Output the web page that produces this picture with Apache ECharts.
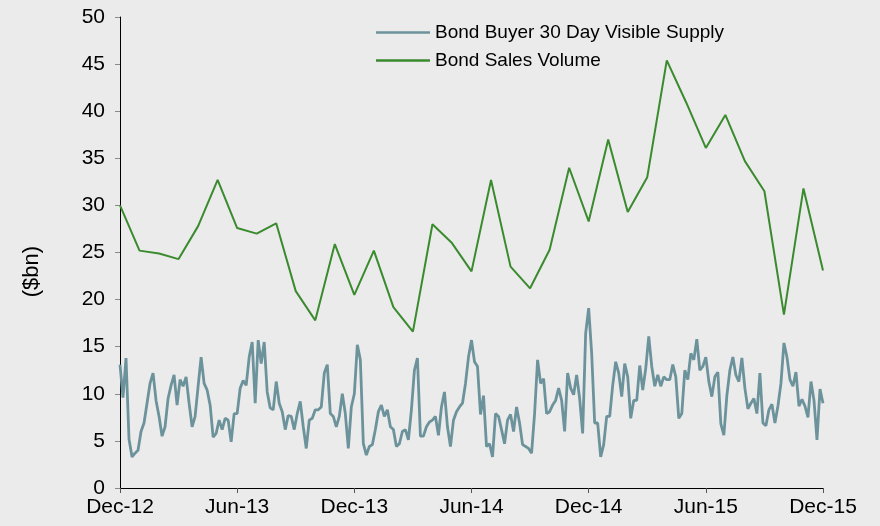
<!DOCTYPE html>
<html>
<head>
<meta charset="utf-8">
<script src="https://cdn.jsdelivr.net/npm/echarts@6/dist/echarts.min.js"></script>
<style>
html,body{margin:0;padding:0;background:#ebebeb;}
#c{width:880px;height:526px;}
</style>
</head>
<body>
<div id="c"></div>
<script>
var tickLabels = ['Dec-12','Jun-13','Dec-13','Jun-14','Dec-14','Jun-15','Dec-15'];
var salesMonths = 37;
var salesVolume = [30.0,25.2,24.9,24.3,27.8,32.7,27.6,27.0,28.1,20.9,17.8,25.9,
  20.5,25.2,19.2,16.6,28.0,26.0,23.0,32.7,23.5,21.2,25.3,34.0,
  28.3,37.0,29.3,33.0,45.4,40.9,36.1,39.6,34.7,31.5,18.4,31.8,23.1];
var visibleSupply = [
  13.1,9.6,13.8,5.2,3.3,3.7,4.0,6.0,6.9,9.0,11.1,12.2,9.3,7.6,5.5,6.5,9.5,10.9,12.0,8.8,
  11.5,10.8,11.8,9.0,6.5,7.6,10.8,13.9,11.1,10.4,8.8,5.4,5.8,7.2,6.2,7.4,7.2,4.9,7.9,7.9,
  10.6,11.4,10.9,13.9,15.5,9.0,15.7,13.2,15.5,10.2,8.5,8.3,11.3,9.0,8.1,6.2,7.7,7.6,6.2,7.9,
  9.2,6.5,4.2,7.2,7.4,8.3,8.3,8.6,12.2,13.1,7.9,7.6,6.5,7.6,10.0,7.9,4.2,8.6,10.0,15.2,
  13.6,4.7,3.5,4.4,4.6,6.2,8.1,8.8,7.6,8.3,6.5,6.2,4.4,4.7,6.0,6.2,5.1,8.3,12.5,13.8,
  5.5,5.5,6.5,7.0,7.2,7.6,5.6,8.6,10.2,6.5,4.4,7.2,8.1,8.6,9.0,11.1,13.9,15.7,13.4,12.9,
  7.8,9.8,4.4,4.7,3.3,7.9,7.6,6.2,4.7,7.2,7.8,6.0,8.6,6.9,4.6,4.4,4.2,3.7,7.9,13.6,
  11.1,11.6,7.9,8.1,8.8,9.3,10.6,9.3,6.0,12.2,10.6,9.9,12.0,9.5,5.8,16.4,19.1,14.3,6.9,6.9,
  3.3,4.6,7.6,7.6,10.9,13.4,12.2,9.7,13.2,11.8,7.4,9.3,9.3,13.0,10.4,12.7,16.1,12.9,10.8,12.0,
  10.8,11.8,11.5,11.5,13.1,11.8,7.4,7.9,12.5,11.5,14.3,13.6,15.8,12.5,12.9,13.9,11.3,9.7,11.8,12.3,
  6.8,5.6,9.8,12.5,13.9,12.0,11.3,13.8,10.6,8.4,9.0,9.5,7.9,12.2,6.9,6.6,8.3,8.9,6.9,8.7,
  11.1,15.4,13.9,11.5,10.8,12.3,8.7,9.4,8.7,7.5,11.3,9.3,5.1,10.5,9.0
];

var salesData = salesVolume.map(function(v,i){ return [i, v]; });
var span = salesMonths - 1;
var supplyData = visibleSupply.map(function(v,i){ return [i*span/(visibleSupply.length-1), v]; });

var font = 'Liberation Sans, Arial, sans-serif';
var chart = echarts.init(document.getElementById('c'), null, {renderer:'canvas'});
chart.setOption({
  backgroundColor:'#ebebeb',
  animation:false,
  grid:{left:120, right:57, top:17, bottom:38, containLabel:false},
  legend:{
    orient:'vertical', left:371, top:18, itemGap:9, itemWidth:54, itemHeight:2.5,
    icon:'rect',
    textStyle:{fontFamily:font, fontSize:19, color:'#000'},
    data:['Bond Buyer 30 Day Visible Supply','Bond Sales Volume']
  },
  xAxis:{
    type:'value', min:0, max:36, interval:6,
    axisLine:{lineStyle:{color:'#000', width:1}},
    axisTick:{show:true, inside:false, length:5, lineStyle:{color:'#555'}},
    splitLine:{show:false},
    axisLabel:{margin:9, fontFamily:font, fontSize:21, color:'#000',
      formatter:function(v){ return tickLabels[Math.round(v/6)]; }}
  },
  yAxis:{
    type:'value', min:0, max:50, interval:5,
    axisLine:{show:true, lineStyle:{color:'#000', width:1}},
    axisTick:{show:true, inside:false, length:5, lineStyle:{color:'#888'}},
    splitLine:{show:false},
    axisLabel:{margin:15, fontFamily:font, fontSize:21, color:'#000'}
  },
  graphic:[{
    type:'text', left:21, top:246, rotation:Math.PI/2,
    style:{text:'($bn)', font:'22px Liberation Sans, Arial, sans-serif', fill:'#000'}
  }],
  series:[
    {name:'Bond Buyer 30 Day Visible Supply', type:'line', data:supplyData, symbol:'none',
      lineStyle:{color:'#6c939b', width:2.8}, itemStyle:{color:'#6c939b'}, z:2},
    {name:'Bond Sales Volume', type:'line', data:salesData, symbol:'none',
      lineStyle:{color:'#3a8a2e', width:2}, itemStyle:{color:'#3a8a2e'}, z:3}
  ]
});
</script>
</body>
</html>
